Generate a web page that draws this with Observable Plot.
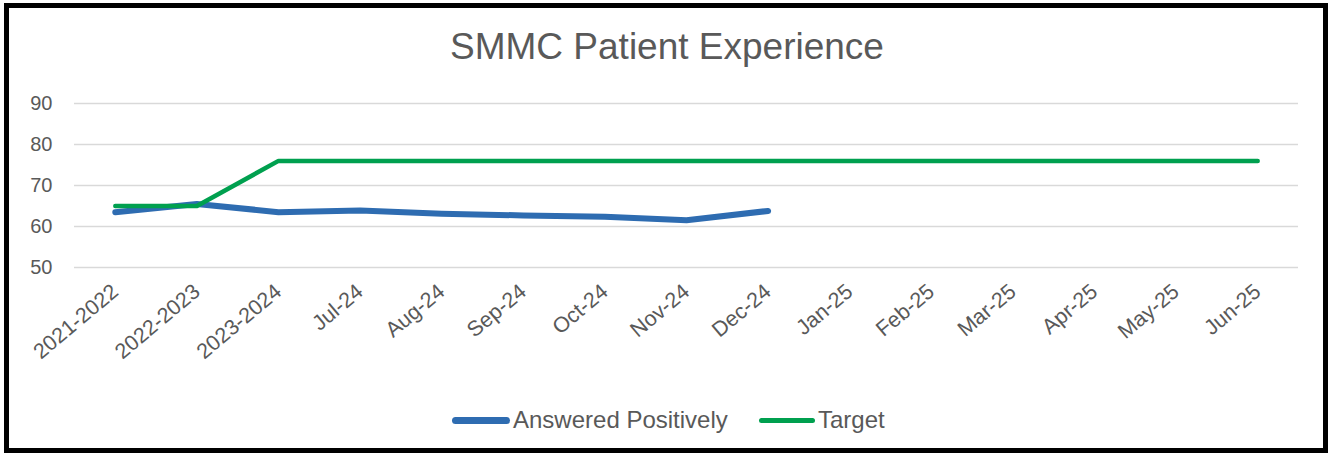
<!DOCTYPE html>
<html>
<head>
<meta charset="utf-8">
<script src="https://cdn.jsdelivr.net/npm/d3@7"></script>
<script src="https://cdn.jsdelivr.net/npm/@observablehq/plot@0.6"></script>
<style>
  html, body { margin: 0; padding: 0; background: #fff; }
  body { width: 1328px; height: 457px; position: relative; overflow: hidden; font-family: "Liberation Sans", Arial, sans-serif; }
  #frame { position: absolute; left: 4px; top: 3px; width: 1324px; height: 450px; border: 5px solid #000; box-sizing: border-box; }
  #title { position: absolute; left: 0; width: 1334px; top: 25px; text-align: center; font-size: 37px; color: #595959; line-height: 44px; }
  #chart { position: absolute; left: 0; top: 80px; }
  #legend { position: absolute; top: 405px; left: 0; width: 1328px; height: 30px; font-size: 24px; color: #595959; }
  .item { position: absolute; top: 0; display: flex; align-items: center; height: 30px; }
  .swatch { height: 7px; border-radius: 3.5px; margin-right: 3px; }
</style>
</head>
<body>
<div id="frame"></div>
<div id="title">SMMC Patient Experience</div>
<div id="chart"></div>
<div id="legend"></div>
<script>
const categories = ["2021-2022","2022-2023","2023-2024","Jul-24","Aug-24","Sep-24","Oct-24","Nov-24","Dec-24","Jan-25","Feb-25","Mar-25","Apr-25","May-25","Jun-25"];
const answeredPositively = [63.5, 65.5, 63.5, 63.9, 63.1, 62.7, 62.4, 61.5, 63.8];
const target = [65, 65, 76, 76, 76, 76, 76, 76, 76, 76, 76, 76, 76, 76, 76];
const yTicks = [50, 60, 70, 80, 90];
const seriesNames = ["Answered Positively", "Target"];
const seriesColors = ["#2E6CB1", "#00A04F"];

const answeredData = answeredPositively.map((v, i) => ({cat: categories[i], value: v}));
const targetData = target.map((v, i) => ({cat: categories[i], value: v}));

const plot = Plot.plot({
  width: 1328,
  height: 300,
  marginLeft: 74,
  marginRight: 30,
  marginTop: 23,
  marginBottom: 113,
  style: {fontFamily: '"Liberation Sans", Arial, sans-serif', color: "#595959", background: "transparent"},
  x: {type: "point", domain: categories, padding: 0.5, round: false},
  y: {domain: [50, 90]},
  marks: [
    Plot.ruleY(yTicks, {stroke: "#d9d9d9", strokeWidth: 1.6}),
    Plot.axisY({ticks: yTicks, tickSize: 0, tickPadding: 22, label: null, fontSize: 20, fill: "#595959"}),
    Plot.axisX({tickSize: 0, tickPadding: 21, tickRotate: -40, label: null, fontSize: 21.5, fill: "#595959"}),
    Plot.line(answeredData, {x: "cat", y: "value", stroke: seriesColors[0], strokeWidth: 6, strokeLinecap: "round", strokeLinejoin: "round"}),
    Plot.line(targetData, {x: "cat", y: "value", stroke: seriesColors[1], strokeWidth: 4.5, strokeLinecap: "round", strokeLinejoin: "round"})
  ]
});
document.getElementById("chart").appendChild(plot);

const legend = document.getElementById("legend");
const legendPos = [[452, 58], [759, 56]];
seriesNames.forEach((name, i) => {
  const item = document.createElement("div");
  item.className = "item";
  item.style.left = legendPos[i][0] + "px";
  const sw = document.createElement("span");
  sw.className = "swatch";
  sw.style.width = legendPos[i][1] + "px";
  sw.style.background = seriesColors[i];
  if (i === 1) { sw.style.height = "5px"; }
  const label = document.createElement("span");
  label.textContent = name;
  item.appendChild(sw);
  item.appendChild(label);
  legend.appendChild(item);
});
</script>
</body>
</html>
